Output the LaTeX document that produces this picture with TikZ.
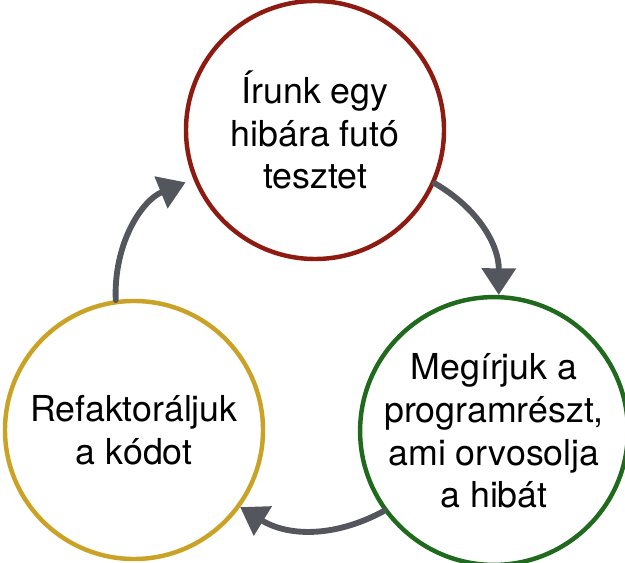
\documentclass[tikz,border=0pt]{standalone}
\usepackage{fontspec}
\setmainfont{TeX Gyre Heros}
\usepackage{xcolor}
\usetikzlibrary{arrows.meta,positioning,calc}

\definecolor{stepred}{HTML}{8E1B12}
\definecolor{stepgreen}{HTML}{1F6A1D}
\definecolor{stepyellow}{HTML}{C9A226}
\definecolor{arrowgray}{HTML}{53565C}

\begin{document}
\begin{tikzpicture}[
    x=0.03cm, y=0.03cm,
    phase/.style={circle, draw, line width=3.8pt, minimum size=7.74cm, inner sep=0pt, align=center,
        font=\fontsize{30.5pt}{36.5pt}\selectfont},
    arrow/.style={-{Triangle[width=1.0cm,length=0.8cm]}, line width=5pt, draw=arrowgray, line cap=round}
]
\useasboundingbox (0,0) rectangle (625,562);

% Circles
\node[phase, draw=stepred] (test) at (315,432) {Írunk egy\\hibára futó\\tesztet};
\node[phase, draw=stepgreen] (code) at (494,131) {Megírjuk a\\programrészt,\\ami orvosolja\\a hibát};
\node[phase, draw=stepyellow] (refactor) at (134,132) {Refaktoráljuk\\a kódot};

% Arrows
\draw[arrow] (test.-24) to[bend left=30] (code.88);
\draw[arrow] (code.216) to[bend left=30] (refactor.-36);
\draw[arrow, shorten >=0.25cm] (refactor.98) to[bend left=35] (test.202);

\end{tikzpicture}
\end{document}
